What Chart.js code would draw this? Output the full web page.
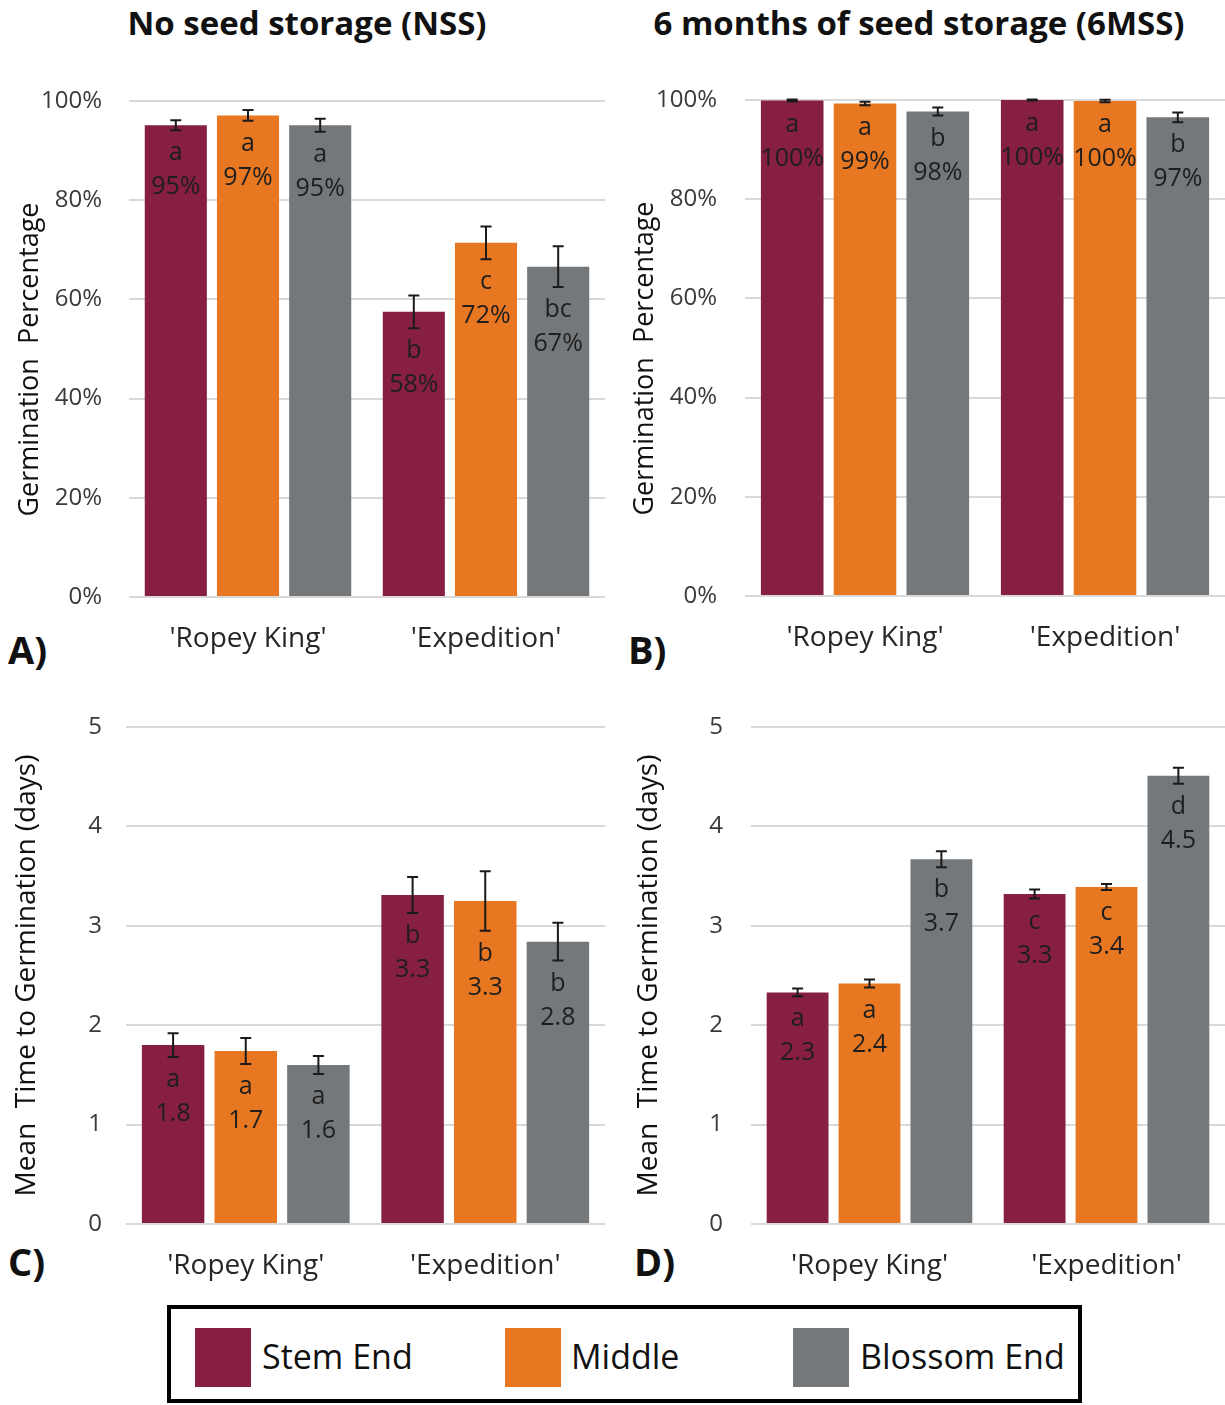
<!DOCTYPE html>
<html>
<head>
<meta charset="utf-8">
<script src="https://cdn.jsdelivr.net/npm/chart.js@4.4.0/dist/chart.umd.min.js"></script>
<style>
  body { margin: 0; background: #fff; font-family: "Open Sans", sans-serif; }
  #wrap { position: relative; width: 1225px; height: 1405px; overflow: hidden; }
  canvas { position: absolute; }
  .title { position: absolute; top: 0px; font-weight: bold; font-size: 33px; color: #111; white-space: nowrap; transform: translateX(-50%); }
  .tag { position: absolute; font-weight: bold; font-size: 38px; color: #111; line-height: 1; }
  #legend { position: absolute; left: 167px; top: 1305px; width: 907px; height: 90px; border: 4px solid #000; }
  .sw { position: absolute; top: 19px; width: 56px; height: 59px; }
  .lt { position: absolute; top: 24px; font-size: 34px; line-height: 46px; color: #111; }
</style>
</head>
<body>
<div id="wrap">
  <div class="title" style="left:307px">No seed storage (NSS)</div>
  <div class="title" style="left:919px">6 months of seed storage (6MSS)</div>
  <div class="tag" style="left:8px;top:630px">A)</div>
  <div class="tag" style="left:628px;top:630px">B)</div>
  <div class="tag" style="left:8px;top:1242px">C)</div>
  <div class="tag" style="left:634px;top:1242px">D)</div>

  <canvas id="chartA" width="620" height="620" style="left:0;top:60px"></canvas>
  <canvas id="chartB" width="605" height="620" style="left:620px;top:60px"></canvas>
  <canvas id="chartC" width="620" height="610" style="left:0;top:690px"></canvas>
  <canvas id="chartD" width="605" height="610" style="left:620px;top:690px"></canvas>

  <div id="legend">
    <div class="sw" style="left:24px;background:#861F41"></div><div class="lt" style="left:91px">Stem End</div>
    <div class="sw" style="left:334px;background:#E87722"></div><div class="lt" style="left:400px">Middle</div>
    <div class="sw" style="left:622px;background:#75787B"></div><div class="lt" style="left:689px">Blossom End</div>
  </div>
</div>

<script>
var categories = ["'Ropey King'", "'Expedition'"];
var seriesNames = ['Stem End', 'Middle', 'Blossom End'];
var barColors = ['#861F41', '#E87722', '#75787B'];

// A) germination %, no seed storage
var nssGermStem = [95.1, 57.5];
var nssGermMiddle = [97.1, 71.4];
var nssGermBlossom = [95.1, 66.6];
var nssGermStemErr = [1.0, 3.3];
var nssGermMiddleErr = [1.1, 3.3];
var nssGermBlossomErr = [1.3, 4.1];
var nssGermStemText = ['a|95%', 'b|58%'];
var nssGermMiddleText = ['a|97%', 'c|72%'];
var nssGermBlossomText = ['a|95%', 'bc|67%'];

// B) germination %, 6 months storage
var mssGermStem = [99.9, 100];
var mssGermMiddle = [99.3, 99.8];
var mssGermBlossom = [97.7, 96.5];
var mssGermStemErr = [0.2, 0.1];
var mssGermMiddleErr = [0.35, 0.25];
var mssGermBlossomErr = [0.8, 1.0];
var mssGermStemText = ['a|100%', 'a|100%'];
var mssGermMiddleText = ['a|99%', 'a|100%'];
var mssGermBlossomText = ['b|98%', 'b|97%'];

// C) mean time to germination, no seed storage
var nssTimeStem = [1.80, 3.31];
var nssTimeMiddle = [1.74, 3.25];
var nssTimeBlossom = [1.60, 2.84];
var nssTimeStemErr = [0.12, 0.18];
var nssTimeMiddleErr = [0.13, 0.30];
var nssTimeBlossomErr = [0.09, 0.19];
var nssTimeStemText = ['a|1.8', 'b|3.3'];
var nssTimeMiddleText = ['a|1.7', 'b|3.3'];
var nssTimeBlossomText = ['a|1.6', 'b|2.8'];

// D) mean time to germination, 6 months storage
var mssTimeStem = [2.33, 3.32];
var mssTimeMiddle = [2.42, 3.39];
var mssTimeBlossom = [3.67, 4.51];
var mssTimeStemErr = [0.04, 0.045];
var mssTimeMiddleErr = [0.04, 0.03];
var mssTimeBlossomErr = [0.08, 0.08];
var mssTimeStemText = ['a|2.3', 'c|3.3'];
var mssTimeMiddleText = ['a|2.4', 'c|3.4'];
var mssTimeBlossomText = ['b|3.7', 'd|4.5'];

var FONT = '"Open Sans", sans-serif';

// error bars + letter/value text under the lower whisker
var errorBarPlugin = {
  id: 'errorBars',
  afterDatasetsDraw: function(chart) {
    var ctx = chart.ctx;
    var y = chart.scales.y;
    chart.data.datasets.forEach(function(ds, di) {
      chart.getDatasetMeta(di).data.forEach(function(bar, i) {
        var v = ds.data[i], e = ds.errors[i];
        var hi = y.getPixelForValue(v + e);
        var lo = y.getPixelForValue(v - e);
        ctx.save();
        ctx.strokeStyle = '#1a1a1a';
        ctx.lineWidth = 2;
        ctx.beginPath();
        ctx.moveTo(bar.x, hi); ctx.lineTo(bar.x, lo);
        ctx.moveTo(bar.x - 5.5, hi); ctx.lineTo(bar.x + 5.5, hi);
        ctx.moveTo(bar.x - 5.5, lo); ctx.lineTo(bar.x + 5.5, lo);
        ctx.stroke();
        var parts = ds.texts[i].split('|');
        ctx.fillStyle = '#1e1e1e';
        ctx.font = '25px ' + FONT;
        ctx.textAlign = 'center';
        ctx.textBaseline = 'middle';
        ctx.fillText(parts[0], bar.x, lo + 23);
        ctx.fillText(parts[1], bar.x, lo + 57);
        ctx.restore();
      });
    });
  }
};

function makeChart(id, series, errs, texts, yMax, yStep, pct, yTitle, box) {
  var datasets = series.map(function(d, k) {
    return {
      label: seriesNames[k],
      data: d,
      errors: errs[k],
      texts: texts[k],
      backgroundColor: barColors[k],
      categoryPercentage: 0.91,
      barPercentage: 0.86
    };
  });
  return new Chart(document.getElementById(id), {
    type: 'bar',
    data: { labels: categories, datasets: datasets },
    plugins: [errorBarPlugin],
    options: {
      responsive: false,
      animation: false,
      layout: { padding: { top: box.top, right: box.right, bottom: 0, left: 0 } },
      plugins: { legend: { display: false }, tooltip: { enabled: false } },
      scales: {
        x: {
          grid: { display: false },
          border: { display: false },
          ticks: { color: '#262626', font: { family: FONT, size: 28 }, padding: box.xPad, maxRotation: 0 },
          afterFit: function(s) { s.height = box.xH; }
        },
        y: {
          min: 0, max: yMax,
          // invisible tick marks give the label gap without padding the chart top
          grid: { color: '#d9d9d9', lineWidth: 2, drawTicks: true, tickLength: box.yPad, tickColor: 'rgba(0,0,0,0)' },
          border: { display: false },
          ticks: {
            stepSize: yStep, color: '#3a3a3a', padding: 0,
            font: { family: FONT, size: 24 },
            callback: function(v) { return pct ? v + '%' : v; }
          },
          title: { display: true, text: yTitle, color: '#111', font: { family: FONT, size: box.tSize }, padding: { top: box.tPad, bottom: 0 } },
          afterFit: function(s) { s.width = box.yW; }
        }
      }
    }
  });
}

makeChart('chartA',
  [nssGermStem, nssGermMiddle, nssGermBlossom],
  [nssGermStemErr, nssGermMiddleErr, nssGermBlossomErr],
  [nssGermStemText, nssGermMiddleText, nssGermBlossomText],
  100, 20, true, 'Germination  Percentage   ',
  { top: 41, right: 15, yW: 129, xH: 83, yPad: 27, xPad: 17, tPad: 14, tSize: 27 });

makeChart('chartB',
  [mssGermStem, mssGermMiddle, mssGermBlossom],
  [mssGermStemErr, mssGermMiddleErr, mssGermBlossomErr],
  [mssGermStemText, mssGermMiddleText, mssGermBlossomText],
  100, 20, true, 'Germination  Percentage   ',
  { top: 40, right: 0, yW: 125, xH: 84, yPad: 28, xPad: 17, tPad: 9, tSize: 27 });

makeChart('chartC',
  [nssTimeStem, nssTimeMiddle, nssTimeBlossom],
  [nssTimeStemErr, nssTimeMiddleErr, nssTimeBlossomErr],
  [nssTimeStemText, nssTimeMiddleText, nssTimeBlossomText],
  5, 1, false, 'Mean  Time to Germination (days)',
  { top: 37, right: 15, yW: 126, xH: 76, yPad: 24, xPad: 17, tPad: 10, tSize: 28 });

makeChart('chartD',
  [mssTimeStem, mssTimeMiddle, mssTimeBlossom],
  [mssTimeStemErr, mssTimeMiddleErr, mssTimeBlossomErr],
  [mssTimeStemText, mssTimeMiddleText, mssTimeBlossomText],
  5, 1, false, 'Mean  Time to Germination (days)',
  { top: 37, right: 0, yW: 131, xH: 76, yPad: 28, xPad: 17, tPad: 12, tSize: 28 });
</script>
</body>
</html>
